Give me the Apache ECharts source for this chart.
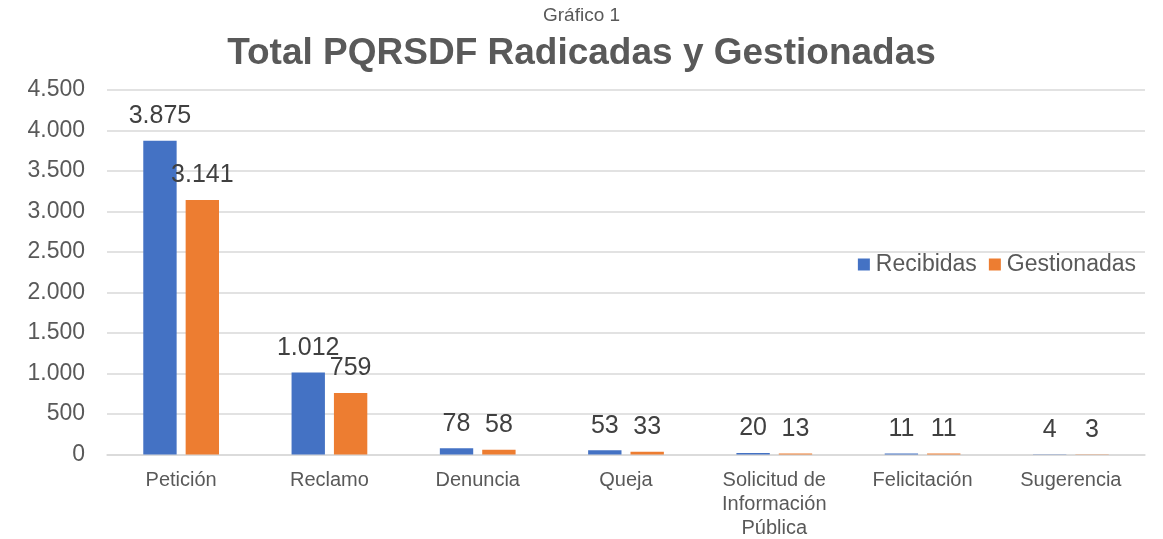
<!DOCTYPE html>
<html><head><meta charset="utf-8">
<script src="https://cdn.jsdelivr.net/npm/echarts@6/dist/echarts.min.js"></script>
<style>html,body{margin:0;padding:0;background:#fff}#c{width:1163px;height:539px}</style>
</head><body><div id="c"></div>
<script>
const categories = ['Petición','Reclamo','Denuncia','Queja','Solicitud de\nInformación\nPública','Felicitación','Sugerencia'];
const recibidas = [3875,1012,78,53,20,11,4];
const gestionadas = [3141,759,58,33,13,11,3];
const yTicks = {min:0,max:4500,interval:500};

const fmt = v => String(v).replace(/\B(?=(\d{3})+(?!\d))/g,'.');
const txt = '#595959';
const font = 'Arial, "Liberation Sans", sans-serif';
const chart = echarts.init(document.getElementById('c'));
chart.setOption({
  animation:false,
  textStyle:{fontFamily:font},
  title:[
    {text:'Gráfico 1',left:'center',top:1,textStyle:{fontSize:19,fontWeight:'normal',color:txt,fontFamily:font}},
    {text:'Total PQRSDF Radicadas y Gestionadas',left:'center',top:30,textStyle:{fontSize:37,fontWeight:'bold',color:txt,fontFamily:font}}
  ],
  legend:{right:22,top:248,itemWidth:12,itemHeight:12,itemGap:12,icon:'rect',
    textStyle:{fontSize:23,color:txt,fontFamily:font,padding:[0,0,0,1]},data:['Recibidas','Gestionadas']},
  grid:{left:107,right:18,top:90,bottom:84.5,outerBoundsMode:'none',containLabel:false},
  xAxis:{type:'category',data:categories,axisTick:{show:false},
    axisLine:{lineStyle:{color:'#d9d9d9',width:1.5}},
    axisLabel:{color:txt,fontSize:20,margin:14,lineHeight:24,fontFamily:font,interval:0}},
  yAxis:{type:'value',min:yTicks.min,max:yTicks.max,interval:yTicks.interval,
    axisLabel:{color:txt,fontSize:23,margin:22,fontFamily:font,formatter:fmt},
    splitLine:{lineStyle:{color:'#d9d9d9',width:1.5}},axisLine:{show:false},axisTick:{show:false}},
  series:[
    {name:'Recibidas',type:'bar',data:recibidas,barWidth:'22.5%',barGap:'27%',itemStyle:{color:'#4472C4'},
      label:{show:true,position:'top',distance:12,fontSize:25,color:'#404040',fontFamily:font,formatter:p=>fmt(p.value)}},
    {name:'Gestionadas',type:'bar',data:gestionadas,barWidth:'22.5%',itemStyle:{color:'#ED7D31'},
      label:{show:true,position:'top',distance:12,fontSize:25,color:'#404040',fontFamily:font,formatter:p=>fmt(p.value)}}
  ]
});
</script></body></html>
